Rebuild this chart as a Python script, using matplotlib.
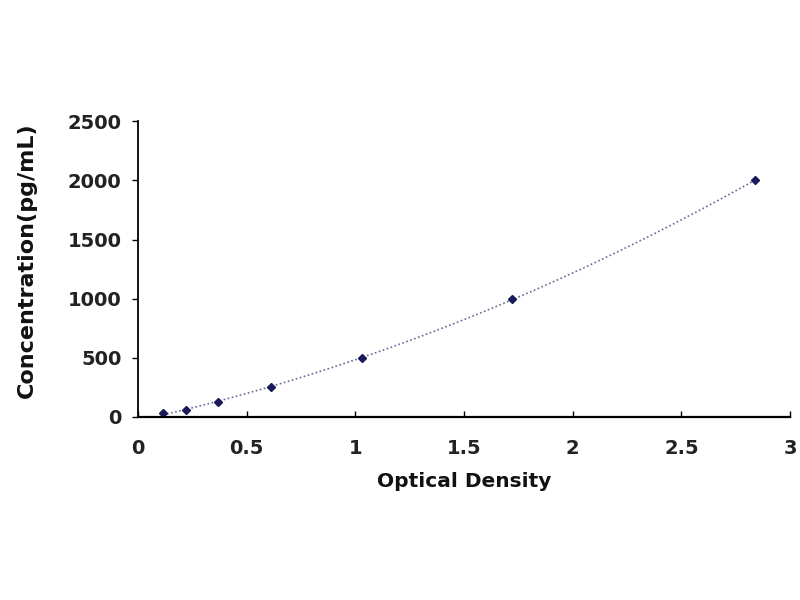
import matplotlib
matplotlib.use("Agg")

import numpy as np
import matplotlib.pyplot as plt

# Standard curve points
optical_density = [0.115, 0.22, 0.37, 0.61, 1.03, 1.72, 2.84]
concentration = [31.25, 62.5, 125, 250, 500, 1000, 2000]

x_ticks = [0, 0.5, 1, 1.5, 2, 2.5, 3]
x_tick_labels = ["0", "0.5", "1", "1.5", "2", "2.5", "3"]
y_ticks = [0, 500, 1000, 1500, 2000, 2500]

plt.rcParams["font.family"] = ["DejaVu Sans"]

fig = plt.figure(figsize=(8, 6), dpi=100)
ax = fig.add_axes([0.1725, 0.305, 0.815, 0.493])

# Trend line fitted through the standards
coef = np.polyfit(optical_density, concentration, 2)
xs = np.linspace(min(optical_density), max(optical_density), 200)
ax.plot(xs, np.polyval(coef, xs), color="#6a6a9a", linestyle=(0, (1, 1.5)), linewidth=1.2)
ax.plot(optical_density, concentration, linestyle="none", marker="D", markersize=4,
        color="#1a1a5a")

ax.set_xlim(0, 3)
ax.set_ylim(0, 2500)
ax.set_xticks(x_ticks)
ax.set_xticklabels(x_tick_labels)
ax.set_yticks(y_ticks)
ax.spines["top"].set_visible(False)
ax.spines["right"].set_visible(False)
ax.spines["left"].set_linewidth(1.3)
ax.spines["bottom"].set_linewidth(1.6)
ax.tick_params(axis="y", labelsize=14, length=4, width=1, pad=8, direction="out")
ax.tick_params(axis="x", labelsize=14, length=4, width=1, pad=16, direction="in")
for lbl in ax.get_xticklabels() + ax.get_yticklabels():
    lbl.set_fontweight("bold")
    lbl.set_color("#222222")

ax.set_xlabel("Optical Density", fontsize=14.5, fontweight="bold", labelpad=10, color="#111111")
ax.set_ylabel("Concentration(pg/mL)", fontsize=16, fontweight="bold", labelpad=22, color="#111111")
ax.yaxis.label.set_y(0.53)

fig.savefig("out.png", dpi=100)
